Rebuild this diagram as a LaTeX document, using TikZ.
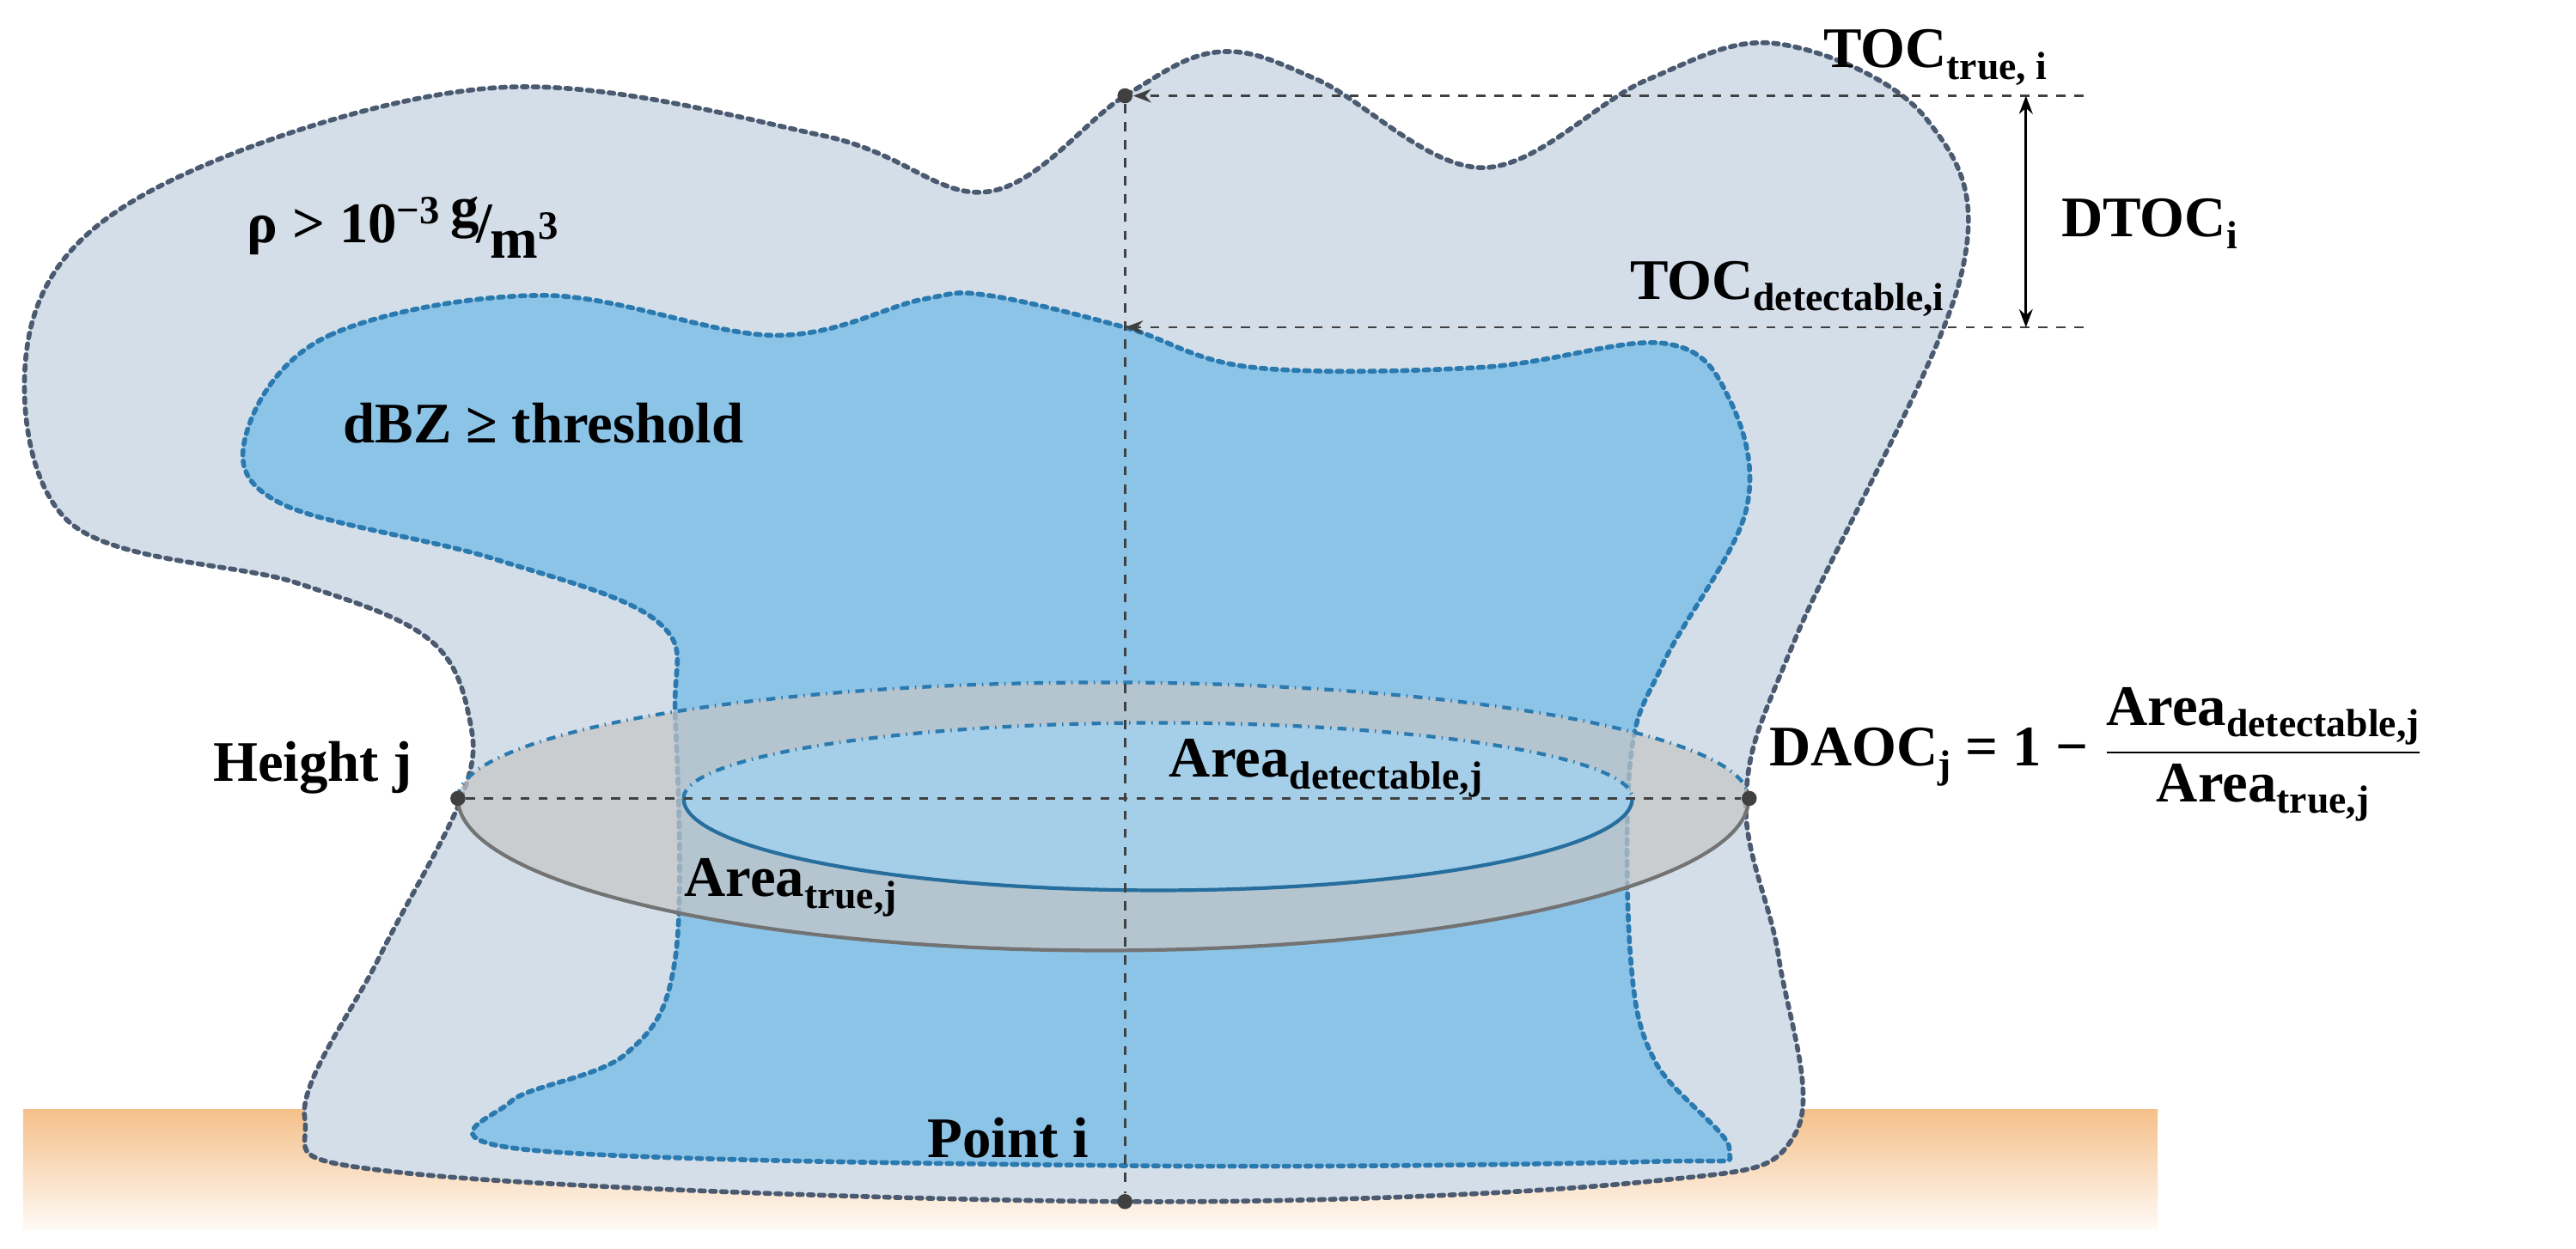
\documentclass[tikz,border=0pt]{standalone}
\usepackage{amsmath}
\usepackage{fontspec}
\setmainfont{Liberation Serif}
\usetikzlibrary{arrows.meta}
\definecolor{outerfill}{HTML}{D4DEE8}
\definecolor{outerline}{HTML}{4A5A70}
\definecolor{innerfill}{HTML}{8CC4E8}
\definecolor{innerline}{HTML}{2A7AB0}
\definecolor{ground}{HTML}{F5C08A}
\newcommand{\sbs}[1]{\raisebox{-0.45ex}{\fontsize{13}{13}\selectfont #1}}
\tikzset{lbl/.style={font=\fontsize{19}{22}\selectfont\bfseries, inner sep=1pt},
  dotn/.style={circle, fill=black!75, inner sep=0pt, minimum size=5pt},
  dline/.style={dashed, black!75, line width=0.8pt},
  cl/.style={line width=1.6pt, dotted, line cap=round}}
\begin{document}
\begin{tikzpicture}[x=0.01917cm,y=-0.0093cm]
\useasboundingbox (0,0) rectangle (1564,1564);
% ground
\shade[top color=ground, bottom color=ground!8] (14,1390) rectangle (1310,1540);
% outer cloud
\draw[cl, outerline, fill=outerfill] plot[smooth cycle, tension=0.6] coordinates {
 (20,400) (40,650) (180,730) (260,800) (285,900) (280,1000) (230,1200) (185,1400) (250,1470)
 (680,1505) (1000,1480) (1090,1420) (1080,1200) (1060,1000) (1090,800) (1190,350) (1170,150)
 (1080,55) (1000,100) (900,210) (800,100) (740,65) (683,120) (600,240) (500,170) (300,110) (100,230)};
% inner cloud
\draw[cl, innerline, fill=innerfill] plot[smooth cycle, tension=0.6] coordinates {
 (150,540) (200,420) (330,370) (470,420) (560,375) (600,370) (683,410) (760,460) (900,460)
 (1010,430) (1050,500) (1060,640) (1010,830) (990,950) (990,1200) (1005,1330) (1050,1440)
 (1000,1455) (683,1460) (320,1440) (310,1380) (380,1320) (410,1200) (410,900) (400,780)
 (300,700) (170,630)};
% ellipses
\fill[gray!45, opacity=0.7] (278,1000) arc[start angle=180,end angle=360,x radius=7.51cm,y radius=1.77cm]
  arc[start angle=0,end angle=180,x radius=7.51cm,y radius=1.35cm] -- cycle;
\draw[gray!90!black, line width=1.2pt] (278,1000) arc[start angle=180,end angle=360,x radius=7.51cm,y radius=1.77cm];
\draw[innerline, dash dot, line width=1.2pt] (278,1000) arc[start angle=180,end angle=0,x radius=7.51cm,y radius=1.35cm];
\fill[innerfill!80!white, opacity=0.85] (415,1000) arc[start angle=180,end angle=360,x radius=5.52cm,y radius=1.07cm]
  arc[start angle=0,end angle=180,x radius=5.52cm,y radius=0.88cm] -- cycle;
\draw[innerline!90!black, line width=1.2pt] (415,1000) arc[start angle=180,end angle=360,x radius=5.52cm,y radius=1.07cm];
\draw[innerline, dash dot, line width=1.2pt] (415,1000) arc[start angle=180,end angle=0,x radius=5.52cm,y radius=0.88cm];
% dots
\node[dotn] (top) at (683,120) {};
\node[dotn] (bot) at (683,1505) {};
\node[dotn] (hl) at (278,1000) {};
\node[dotn] (hr) at (1062,1000) {};
\coordinate (det) at (683,410);
\coordinate (r1) at (1265,120);
\coordinate (r2) at (1265,410);
\coordinate (a1) at (1230,120);
\coordinate (a2) at (1230,410);
\draw[dline] (top) -- (bot);
\draw[dline] (hl) -- (hr);
\draw[dline, -{Stealth[length=6pt]}] (r1) -- (top);
\draw[dline, -{Stealth[length=6pt]}] (r2) -- (det);
\draw[black, line width=0.8pt, {Stealth[length=6pt]}-{Stealth[length=6pt]}] (a1) -- (a2);
% labels
\node[lbl] (t1) at (1175,72) {TOC\sbs{true, i}};
\node[lbl] (t2) at (1305,280) {DTOC\sbs{i}};
\node[lbl] (t3) at (1085,362) {TOC\sbs{detectable,i}};
\node[lbl] (t4) at (245,285) {ρ > 10\textsuperscript{−3}\,\raisebox{0.6ex}{g}\hspace{-0.05em}\textbf{/}\hspace{-0.05em}\raisebox{-0.6ex}{m\textsuperscript{3}}};
\node[lbl] (t5) at (330,530) {dBZ ≥ threshold};
\node[lbl] (t6) at (190,962) {Height j};
\node[lbl] (t7) at (805,962) {Area\sbs{detectable,j}};
\node[lbl] (t8) at (480,1112) {Area\sbs{true,j}};
\node[lbl] (t9) at (612,1425) {Point i};
\node[lbl, anchor=west] (t10) at (1072,945) {DAOC\sbs{j} = 1 − $\dfrac{\text{\bfseries Area\sbs{detectable,j}}}{\text{\bfseries Area\sbs{true,j}}}$};
\end{tikzpicture}
\end{document}
